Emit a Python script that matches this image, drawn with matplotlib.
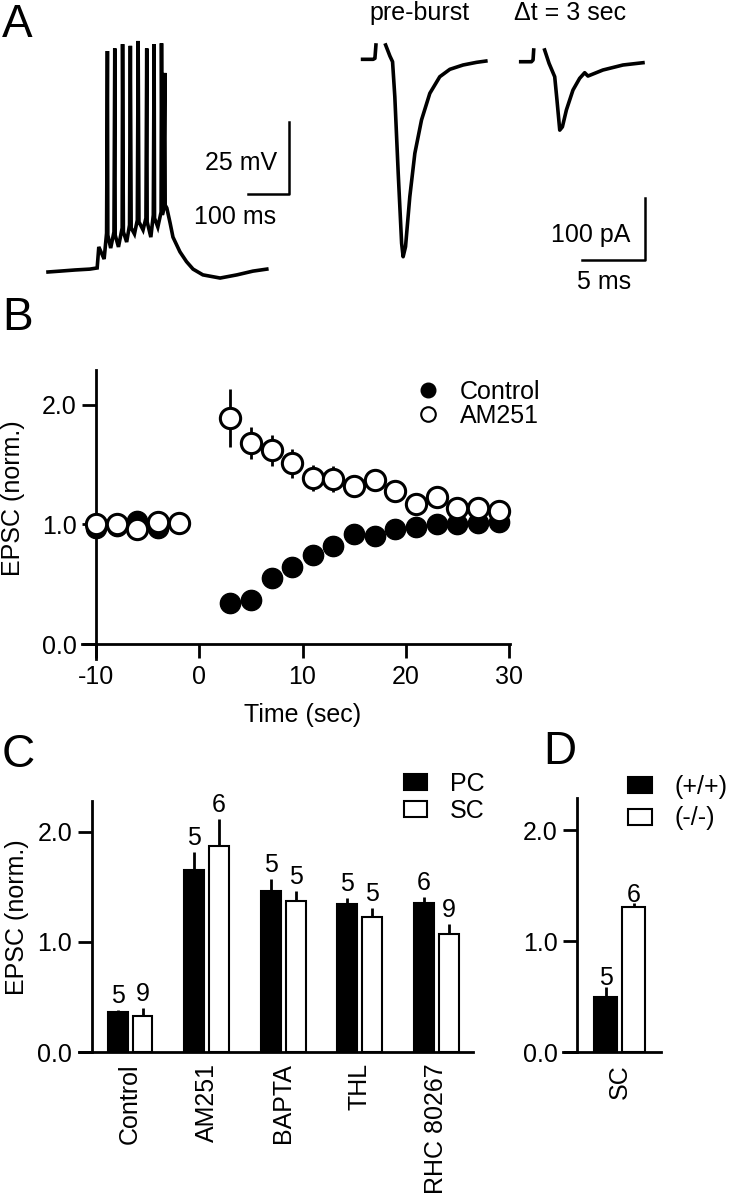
import matplotlib
matplotlib.use('Agg')
import matplotlib.pyplot as plt
import numpy as np
from matplotlib.lines import Line2D
from matplotlib.patches import Patch

plt.rcParams['font.family'] = ['Liberation Sans', 'DejaVu Sans']
plt.rcParams['font.size'] = 18
plt.rcParams['axes.unicode_minus'] = False

W, H = 730, 1200

# ---- A: burst recording (ms, mV above rest)
burst_t = [0, 29, 66, 102, 120, 124, 137, 143, 145, 146, 153, 161, 163, 164, 172, 181, 182, 184,
           192, 199, 201, 203, 211, 218, 220, 222, 232, 239, 241, 242, 251, 257, 259, 260, 268,
           276, 277, 279, 282, 285, 286, 290, 298, 305, 322, 338, 354, 378, 420, 461, 500, 534]
burst_v = [0.0, 0.3, 0.7, 1.0, 1.4, 8.7, 4.5, 13.5, 76.7, 12.8, 8.3, 13.9, 77.6, 12.8, 8.7, 15.3,
           79.1, 13.9, 10.4, 16.3, 78.5, 15.3, 13.2, 18.0, 80.2, 17.4, 14.6, 18.7, 77.6, 17.4, 12.1,
           19.8, 79.1, 18.7, 15.6, 20.8, 79.4, 19.8, 21.5, 69.1, 23.2, 22.2, 17.0, 12.1, 7.0, 3.6,
           1.0, -1.0, -2.1, -1.0, 0.3, 1.0]

# EPSCs (ms, pA); nan = blanked stimulus artifact
pre_t = [0, 0.84, 0.98, 1.06, np.nan, 1.83, 2.17, 2.38, 2.56, 2.83, 3.10, 3.22, 3.41, 3.75,
         4.15, 4.68, 5.34, 6.13, 6.93, 7.98, 9.05, 9.79]
pre_i = [0, 0, 1.6, 23.2, np.nan, 23.2, 5.3, -3.9, -60.6, -184.7, -298.1, -319.8, -303.6,
         -222.6, -152.3, -98.3, -55.1, -28.2, -16.2, -9.2, -4.9, -2.8]
post_t = [0, 0.85, 0.98, 1.03, np.nan, 1.90, 2.25, 2.70, 2.88, 3.10, 3.31, 3.63, 4.15, 4.68,
          5.08, 5.34, 6.53, 8.12, 9.71]
post_i = [0, 0, 2.8, 19.0, np.nan, 19.0, -2.6, -24.3, -62.2, -110.8, -105.5, -78.0, -45.9,
          -26.9, -17.8, -23.2, -13.4, -5.3, -1.6]

# ---- B: time course
time_s = [-10, -8, -6, -4, -2, 3, 5, 7, 9, 11, 13, 15, 17, 19, 21, 23, 25, 27, 29]
control = [0.97, 0.99, 1.03, 0.97, 1.01, 0.34, 0.37, 0.55, 0.64, 0.74, 0.82, 0.92, 0.90,
           0.96, 0.98, 1.00, 1.00, 1.01, 1.02]
am251 = [1.00, 1.00, 0.96, 1.02, 1.01, 1.89, 1.68, 1.62, 1.51, 1.39, 1.38, 1.32, 1.37,
         1.28, 1.17, 1.23, 1.14, 1.14, 1.11]
am251_err = [0.02, 0.02, 0.02, 0.02, 0.02, 0.24, 0.13, 0.13, 0.12, 0.11, 0.11, 0.08, 0.05,
             0.03, 0.03, 0.03, 0.03, 0.03, 0.03]

# ---- C: summary
groups = ['Control', 'AM251', 'BAPTA', 'THL', 'RHC 80267']
pc_mean = [0.36, 1.65, 1.46, 1.34, 1.35]
pc_err = [0.02, 0.17, 0.11, 0.06, 0.06]
pc_n = [5, 5, 5, 5, 6]
sc_mean = [0.33, 1.87, 1.37, 1.23, 1.07]
sc_err = [0.07, 0.25, 0.09, 0.08, 0.09]
sc_n = [9, 6, 5, 5, 9]

# ---- D: knockout
d_labels = ['(+/+)', '(-/-)']
d_mean = [0.50, 1.31]
d_err = [0.09, 0.03]
d_n = [5, 6]

fig = plt.figure(figsize=(W / 100, H / 100), dpi=100)


def box(x0, y0, x1, y1):
    return fig.add_axes([x0 / W, 1 - y1 / H, (x1 - x0) / W, (y1 - y0) / H])


def ftext(x, y, s, **kw):
    fig.text(x / W, 1 - y / H, s, **kw)


LW = 2.6

# panel A, burst
axA = box(40, 30, 300, 290)
axA.plot(burst_t, burst_v, color='k', lw=LW, solid_joinstyle='miter')
axA.plot([488, 588, 588], [27.1, 27.1, 52.1], color='k', lw=1.8)
axA.text(559, 37.8, '25 mV', ha='right', va='center')
axA.text(456, 19.1, '100 ms', ha='center', va='center')
axA.set_xlim(-19.5, 615)
axA.set_ylim(-6.25, 84)
axA.axis('off')

# panel A, EPSCs
axE = box(350, 30, 700, 295)
axE.plot(pre_t, pre_i, color='k', lw=LW)
axE.plot(np.array(post_t) + 12.56, np.array(post_i) - 3.9, color='k', lw=LW)
axE.plot([17.4, 22.4, 22.4], [-325, -325, -225], color='k', lw=1.8)
axE.text(21.25, -284.6, '100 pA', ha='right', va='center')
axE.text(19.2, -360.8, '5 ms', ha='center', va='center')
axE.set_xlim(-1.0, 26.8)
axE.set_ylim(-381.8, 47.5)
axE.axis('off')
ftext(420, 13, 'pre-burst', ha='center', va='center')
ftext(570, 13, '\u0394t = 3 sec', ha='center', va='center')


def style(ax):
    for s in ['top', 'right']:
        ax.spines[s].set_visible(False)
    for s in ['left', 'bottom']:
        ax.spines[s].set_linewidth(2)
    ax.tick_params(direction='out', length=10, width=2, labelsize=18, pad=4)
    ax.set_yticks([0, 1, 2])
    ax.set_yticklabels(['0.0', '1.0', '2.0'])


# panel B
axB = box(82, 370, 510, 659)
axB.plot(time_s, control, 'o', ms=14.6, mfc='k', mec='k', zorder=3, clip_on=False)
axB.errorbar(time_s, am251, yerr=am251_err, fmt='o', ms=14.6, mfc='w', mec='k', mew=2.2,
             ecolor='k', elinewidth=2, capsize=0, zorder=4, clip_on=False)
axB.set_xlim(-11.36, 30.1)
axB.set_ylim(-0.125, 2.29)
style(axB)
axB.spines['left'].set_position(('data', -10))
axB.spines['bottom'].set_position(('data', 0))
axB.set_xticks([-10, 0, 10, 20, 30])
axB.tick_params(axis='x', pad=5)
ftext(303, 715, 'Time (sec)', ha='center', va='center')
ftext(13, 498, 'EPSC (norm.)', ha='center', va='center', rotation=90)
hB = [Line2D([], [], ls='none', marker='o', ms=10.5, mfc='k', mec='k'),
      Line2D([], [], ls='none', marker='o', ms=10.5, mfc='w', mec='k', mew=1.5)]
fig.legend(hB, ['Control', 'AM251'], loc='upper left', bbox_to_anchor=(415 / W, 1 - 380 / H),
           frameon=False, handlelength=1.0, handletextpad=0.8, labelspacing=0.0,
           borderpad=0, borderaxespad=0, fontsize=18)

# panel C
axC = box(79, 801, 473, 1052)
x = np.arange(len(groups))
off, bw = 0.163, 0.26
axC.bar(x - off, pc_mean, bw, color='k', edgecolor='k', lw=1.5, zorder=2)
axC.bar(x + off, sc_mean, bw, color='w', edgecolor='k', lw=1.5, zorder=2)
axC.vlines(x - off, pc_mean, np.add(pc_mean, pc_err), color='k', lw=2, zorder=1)
axC.vlines(x + off, sc_mean, np.add(sc_mean, sc_err), color='k', lw=2, zorder=1)
for xi, m, e, n in zip(x - off, pc_mean, pc_err, pc_n):
    axC.annotate(str(n), (xi, m + e), xytext=(0, 5), textcoords='offset points',
                 ha='center', va='baseline')
for xi, m, e, n in zip(x + off, sc_mean, sc_err, sc_n):
    axC.annotate(str(n), (xi, m + e), xytext=(0, 5), textcoords='offset points',
                 ha='center', va='baseline')
axC.set_xlim(-0.667, 4.48)
axC.set_ylim(0, 2.28)
style(axC)
axC.spines['left'].set_position(('data', -0.5))
axC.set_xticks(x)
axC.set_xticklabels(groups, rotation=90)
axC.tick_params(axis='x', length=0, pad=8)
ftext(17, 917, 'EPSC (norm.)', ha='center', va='center', rotation=90)
hC = [Patch(fc='k', ec='k', lw=1.5), Patch(fc='w', ec='k', lw=1.5)]
fig.legend(hC, ['PC', 'SC'], loc='upper left', bbox_to_anchor=(404 / W, 1 - 772 / H),
           frameon=False, handlelength=0.92, handleheight=0.6, handletextpad=0.92,
           labelspacing=0.1, borderpad=0, borderaxespad=0, fontsize=18)

# panel D
axD = box(563, 798, 661, 1052)
dx = np.array([-0.183, 0.183])
axD.bar(dx, d_mean, 0.29, color=['k', 'w'], edgecolor='k', lw=1.5, zorder=2)
axD.vlines(dx, d_mean, np.add(d_mean, d_err), color='k', lw=2, zorder=1)
for xi, m, e, n in zip(dx, d_mean, d_err, d_n):
    axD.annotate(str(n), (xi, m + e), xytext=(0, 1), textcoords='offset points',
                 ha='center', va='baseline')
axD.set_xlim(-0.739, 0.542)
axD.set_ylim(0, 2.29)
style(axD)
axD.spines['left'].set_position(('data', -0.556))
axD.set_xticks([0])
axD.set_xticklabels(['SC'], rotation=90)
axD.tick_params(axis='x', length=0, pad=9)
hD = [Patch(fc='k', ec='k', lw=1.5), Patch(fc='w', ec='k', lw=1.5)]
fig.legend(hD, d_labels, loc='upper left', bbox_to_anchor=(628 / W, 1 - 775 / H),
           frameon=False, handlelength=0.96, handleheight=0.6, handletextpad=0.92,
           labelspacing=0.3, borderpad=0, borderaxespad=0, fontsize=18)

# panel letters
for s, (px, py) in zip('ABCD', [(2, 25), (2, 318), (2, 755), (543, 752)]):
    ftext(px, py, s, fontsize=33, ha='left', va='center')

fig.savefig('out.png', dpi=100)
